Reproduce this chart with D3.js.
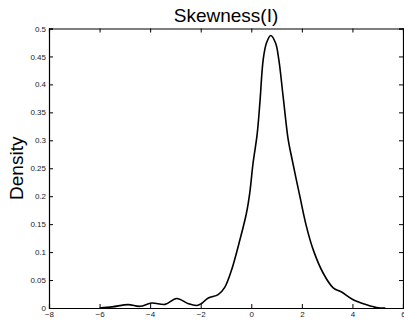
<!DOCTYPE html>
<html>
<head>
<meta charset="utf-8">
<script src="https://cdn.jsdelivr.net/npm/d3@7"></script>
<style>
	body { margin: 0; background: #fff; }
	svg { display: block; font-family: "Liberation Sans", Arial, Helvetica, sans-serif; }
</style>
</head>
<body>
<svg></svg>
<script>

// DATA

var title = "Skewness(I)"
var ylabel = "Density"

var xTicks = [-8, -6, -4, -2, 0, 2, 4, 6]
var yTicks = [0, 0.05, 0.1, 0.15, 0.2, 0.25, 0.3, 0.35, 0.4, 0.45, 0.5]

var densX = [-6.0, -5.5, -4.87, -4.4, -3.94, -3.41, -2.95, -2.49, -2.16, -1.97, -1.70, -1.31, -1.05, -0.78,
	-0.45, -0.19, -0.06, 0.07, 0.23, 0.34, 0.47, 0.60, 0.77, 0.96, 1.09, 1.26, 1.46, 1.59, 1.92,
	2.18, 2.45, 2.84, 3.24, 3.57, 4.03, 4.56, 4.95, 5.3]
var densY = [0, 0.002, 0.006, 0.003, 0.009, 0.0065, 0.017, 0.0077, 0.0045, 0.008, 0.018, 0.024, 0.037, 0.068,
	0.122, 0.17, 0.206, 0.259, 0.31, 0.367, 0.444, 0.474, 0.4875, 0.474, 0.444, 0.378, 0.301, 0.271, 0.2,
	0.146, 0.104, 0.0626, 0.036, 0.0286, 0.0148, 0.0059, 0.001, 0]

// VIS

var width = 404
var height = 322
var margin = { top: 28.5, right: 1, bottom: 14, left: 49 }

var svg = d3.select("svg")
	.attr("width", width)
	.attr("height", height)

var x = d3.scaleLinear().domain([-8, 6]).range([margin.left, width - margin.right])
var y = d3.scaleLinear().domain([0, 0.5]).range([height - margin.bottom, margin.top])

var tickLen = 4

// bottom axis
svg.append("g")
	.attr("transform", "translate(0," + y(0) + ")")
	.call(d3.axisBottom(x).tickValues(xTicks).tickSize(-tickLen).tickPadding(3).tickFormat(d3.format("d")))
	.call(style_axis)

// top axis (ticks only)
svg.append("g")
	.attr("transform", "translate(0," + y(0.5) + ")")
	.call(d3.axisTop(x).tickValues(xTicks).tickSize(-tickLen).tickFormat(""))
	.call(style_axis)

// left axis
svg.append("g")
	.attr("transform", "translate(" + x(-8) + ",0)")
	.call(d3.axisLeft(y).tickValues(yTicks).tickSize(-tickLen).tickPadding(3).tickFormat(function(d) { return d3.format("~g")(d) }))
	.call(style_axis)

// right axis (ticks only)
svg.append("g")
	.attr("transform", "translate(" + x(6) + ",0)")
	.call(d3.axisRight(y).tickValues(yTicks).tickSize(-tickLen).tickFormat(""))
	.call(style_axis)

function style_axis(g) {
	g.select(".domain").attr("stroke", "#000").attr("stroke-width", 1.2)
	g.selectAll(".tick line").attr("stroke", "#000").attr("stroke-width", 1)
	g.selectAll(".tick text")
		.attr("fill", "#222")
		.style("font-size", "8px")
}

// density curve
var points = densX.map(function(d, i) { return [d, densY[i]] })

var line = d3.line()
	.x(function(d) { return x(d[0]) })
	.y(function(d) { return y(d[1]) })
	.curve(d3.curveCatmullRom.alpha(0.5))

svg.append("path")
	.datum(points)
	.attr("d", line)
	.attr("fill", "none")
	.attr("stroke", "#000")
	.attr("stroke-width", 1.6)
	.attr("stroke-linejoin", "round")

// labels
svg.append("text")
	.attr("x", (x(-8) + x(6)) / 2)
	.attr("y", 22)
	.attr("text-anchor", "middle")
	.style("font-size", "19px")
	.text(title)

svg.append("text")
	.attr("transform", "translate(23," + (y(0) + y(0.5)) / 2 + ") rotate(-90)")
	.attr("text-anchor", "middle")
	.style("font-size", "19px")
	.text(ylabel)

</script>
</body>
</html>
